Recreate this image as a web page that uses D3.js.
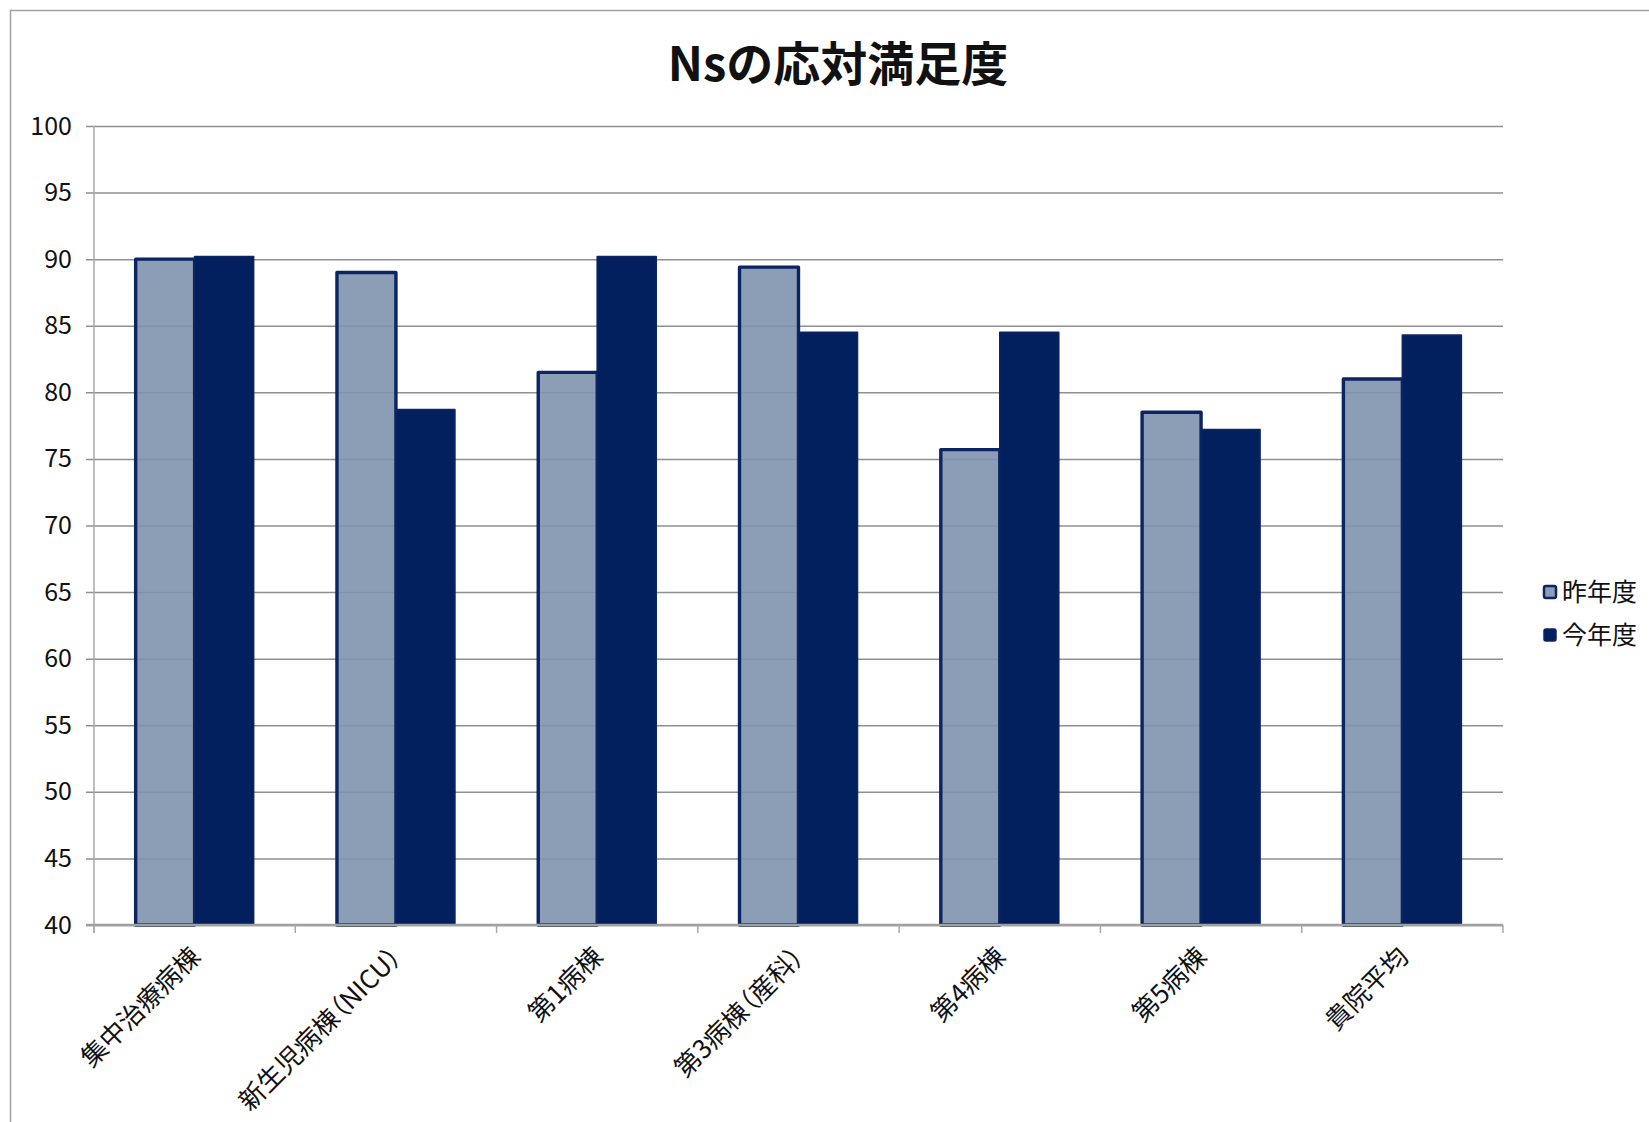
<!DOCTYPE html>
<html><head><meta charset="utf-8">
<script src="https://cdn.jsdelivr.net/npm/d3@7/dist/d3.min.js"></script>
<style>
html,body{margin:0;padding:0;background:#fff;}
text{font-family:"Noto Sans CJK JP","Noto Sans",sans-serif;fill:#111;}
.xl{font-feature-settings:"palt" 1;}
</style></head>
<body><svg id="c" width="1649" height="1122"></svg>
<script>
const title = "Nsの応対満足度";
const categories = ["集中治療病棟","新生児病棟（NICU）","第1病棟","第3病棟（産科）","第4病棟","第5病棟","貴院平均"];
const seriesNames = ["昨年度","今年度"];
const lastYear = [90.0, 89.0, 81.5, 89.4, 75.7, 78.5, 81.0];
const thisYear = [90.2, 78.7, 90.2, 84.5, 84.5, 77.2, 84.3];
const yTicks = [40,45,50,55,60,65,70,75,80,85,90,95,100];

const svg = d3.select("#c");
const W = 1649, H = 1122;
const L = 94, R = 1503, T = 126, B = 925;

// border
svg.append("path").attr("d", `M10.5,${H} L10.5,10.5 L${W},10.5`)
  .attr("fill","none").attr("stroke","#a0a0a0").attr("stroke-width",1.5);

const x = d3.scaleBand().domain(categories).range([L, R]).paddingInner(0.414).paddingOuter(0.207);
const xs = d3.scaleBand().domain(seriesNames).range([0, x.bandwidth()]);
const y = d3.scaleLinear().domain([40, 100]).range([B, T]);

// gridlines via axis
const ya = svg.append("g").attr("transform", `translate(${R},0)`)
  .call(d3.axisLeft(y).tickValues(yTicks).tickSize(R - 86).tickFormat(""));
ya.select(".domain").remove();
ya.selectAll(".tick line").attr("stroke","#8f8f8f").attr("stroke-width",1.5);

// y labels
const yl = svg.append("g").attr("transform", `translate(${L},0)`)
  .call(d3.axisLeft(y).tickValues(yTicks).tickSize(0).tickPadding(22).tickFormat(d3.format("d")));
yl.select(".domain").remove();
yl.selectAll("text").style("font-size","25px").style("font-family","'Noto Sans CJK JP',sans-serif").attr("fill","#111");

// left axis line
svg.append("line").attr("x1",L).attr("x2",L).attr("y1",T).attr("y2",B+8)
  .attr("stroke","#a8a8a8").attr("stroke-width",1.5);

const data = categories.map((c,i)=>({c, vals:[{s:seriesNames[0], v:lastYear[i]},{s:seriesNames[1], v:thisYear[i]}]}));
const fills = {"昨年度":"#7f93ad","今年度":"#02205e"};
const g = svg.append("g");
data.forEach(d=>{
  d.vals.forEach(e=>{
    g.append("rect")
      .attr("x", x(d.c) + xs(e.s))
      .attr("y", y(e.v))
      .attr("width", xs.bandwidth())
      .attr("height", B - y(e.v))
      .attr("fill", fills[e.s])
      .attr("fill-opacity", e.s === "昨年度" ? 0.9 : 1)
      .attr("stroke", "#0b2563")
      .attr("stroke-width", e.s === "昨年度" ? 3.4 : 1.6)
      .attr("stroke-linejoin","round");
  });
});

// bottom axis
svg.append("line").attr("x1",86).attr("x2",R).attr("y1",B).attr("y2",B)
  .attr("stroke","#a0a0a0").attr("stroke-width",2.5);
const step = x.step();
const bounds = d3.range(categories.length+1).map(i=>L + i*step);
svg.selectAll(".xt").data(bounds).enter().append("line")
  .attr("x1",d=>d).attr("x2",d=>d).attr("y1",B).attr("y2",B+8)
  .attr("stroke","#a8a8a8").attr("stroke-width",1.5);

// x labels
svg.selectAll(".xl").data(categories).enter().append("text")
  .attr("class","xl")
  .attr("transform", d=>`translate(${x(d)+x.bandwidth()/2+1},${B+27}) rotate(-45)`)
  .attr("text-anchor","end").attr("dy","0.35em")
  .style("font-size","26px").text(d=>d);

// title
svg.append("text").attr("x",838).attr("y",81).attr("text-anchor","middle")
  .style("font-size","47px").style("font-weight","bold").text(title);

// legend
const lg = svg.append("g");
seriesNames.forEach((s,i)=>{
  const yy = 592 + i*43;
  lg.append("rect").attr("x",1544).attr("y",yy-6).attr("width",12).attr("height",12)
    .attr("rx",2).attr("fill", i===0 ? "#8c9eb5" : "#02205e")
    .attr("stroke","#0b2563").attr("stroke-width", i===0 ? 2.5 : 1.5);
  lg.append("text").attr("x",1562).attr("y",yy).attr("dy","0.35em")
    .style("font-size","25px").text(s);
});
</script></body></html>
